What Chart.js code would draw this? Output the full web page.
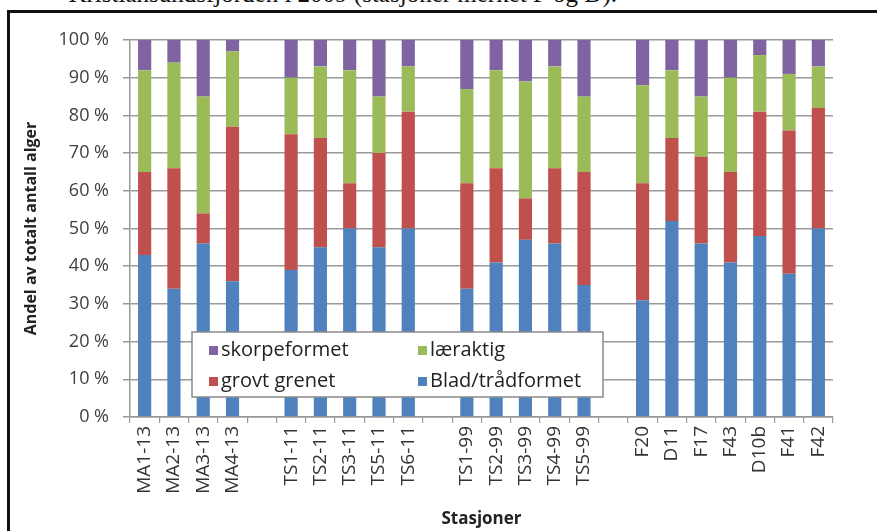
<!DOCTYPE html>
<html>
<head>
<meta charset="utf-8">
<script src="https://cdn.jsdelivr.net/npm/chart.js@4"></script>
<style>
  html, body { margin: 0; padding: 0; background: #fff; overflow: hidden; }
  #wrap { position: relative; width: 877px; height: 531px; }
  #caption {
    position: absolute; right: 260px; top: -19px;
    font-family: "Liberation Serif", serif; font-size: 25px; line-height: 25px;
    white-space: nowrap; color: #111;
  }
  #frame {
    position: absolute; left: 7px; top: 10px; right: -10px; bottom: -10px;
    border-left: 3px solid #111; border-top: 3px solid #111;
  }
  canvas { position: absolute; left: 0; top: 0; }
</style>
</head>
<body>
<div id="wrap">
  <div id="caption">Kristiansundsfjorden i 2009  (stasjoner merket F og D).</div>
  <div id="frame"></div>
  <canvas id="chart" width="877" height="531"></canvas>
</div>
<script>
// stasjoner, tomme plasser er mellomrom mellom gruppene
const stations = ["MA1-13", "MA2-13", "MA3-13", "MA4-13", "",
  "TS1-11", "TS2-11", "TS3-11", "TS5-11", "TS6-11", "",
  "TS1-99", "TS2-99", "TS3-99", "TS4-99", "TS5-99", "",
  "F20", "D11", "F17", "F43", "D10b", "F41", "F42"];

// andel (%) per type
const bladTraad = [43, 34, 46, 36, null, 39, 45, 50, 45, 50, null, 34, 41, 47, 46, 35, null, 31, 52, 46, 41, 48, 38, 50];
const grovtGrenet = [22, 32, 8, 41, null, 36, 29, 12, 25, 31, null, 28, 25, 11, 20, 30, null, 31, 22, 23, 24, 33, 38, 32];
const laeraktig = [27, 28, 31, 20, null, 15, 19, 30, 15, 12, null, 25, 26, 31, 27, 20, null, 26, 18, 16, 25, 15, 15, 11];
const skorpeformet = [8, 6, 15, 3, null, 10, 7, 8, 15, 7, null, 13, 8, 11, 7, 15, null, 12, 8, 15, 10, 4, 9, 7];

const yTicks = [0, 10, 20, 30, 40, 50, 60, 70, 80, 90, 100];

const font = "'Open Sans', sans-serif";

// legend drawn inside the plot, like the original
const boxLegend = {
  id: "boxLegend",
  afterDraw(chart) {
    const ctx = chart.ctx;
    const ds = chart.data.datasets;
    const order = [[3, 2], [1, 0]];
    const x0 = 192, y0 = 332, w = 411, h = 65;
    ctx.save();
    ctx.fillStyle = "#fff";
    ctx.fillRect(x0, y0, w, h);
    ctx.strokeStyle = "#8a8a8a";
    ctx.lineWidth = 1.5;
    ctx.strokeRect(x0, y0, w, h);
    ctx.font = "20px " + font;
    ctx.textBaseline = "middle";
    order.forEach((row, r) => {
      row.forEach((di, c) => {
        const x = x0 + 17 + c * 209;
        const y = y0 + 18 + r * 31;
        ctx.fillStyle = ds[di].backgroundColor;
        ctx.fillRect(x, y - 4, 9, 9);
        ctx.fillStyle = "#222";
        ctx.fillText(ds[di].label, x + 12, y);
      });
    });
    ctx.font = "bold 17px " + font;
    ctx.textAlign = "center";
    ctx.fillText("Stasjoner", (chart.chartArea.left + chart.chartArea.right) / 2, 519);
    ctx.restore();
  }
};

new Chart(document.getElementById("chart"), {
  type: "bar",
  data: {
    labels: stations,
    datasets: [
      { label: "Blad/trådformet", data: bladTraad, backgroundColor: "#4F81BD" },
      { label: "grovt grenet", data: grovtGrenet, backgroundColor: "#C0504D" },
      { label: "læraktig", data: laeraktig, backgroundColor: "#9BBB59" },
      { label: "skorpeformet", data: skorpeformet, backgroundColor: "#8064A2" }
    ]
  },
  options: {
    responsive: false,
    animation: false,
    layout: { padding: { left: 0, right: 44, top: 40, bottom: 0 } },
    datasets: { bar: { categoryPercentage: 1, barPercentage: 0.45 } },
    plugins: { legend: { display: false }, tooltip: { enabled: false } },
    scales: {
      x: {
        stacked: true,
        afterFit(scale) { scale.height = 114; },
        grid: { display: true, drawOnChartArea: false, drawTicks: true, tickLength: 6, color: "#999", lineWidth: 1.2 },
        border: { color: "#999", width: 1.5 },
        ticks: { autoSkip: false, minRotation: 90, maxRotation: 90, padding: 3, color: "#333", font: { family: font, size: 19 } }
      },
      y: {
        stacked: true,
        min: 0, max: 100,
        afterFit(scale) { scale.width = 130; },
        afterBuildTicks(scale) { scale.ticks = yTicks.map(v => ({ value: v })); },
        grid: { color: "#999", lineWidth: 1.5, tickLength: 7 },
        border: { color: "#999", width: 1.5 },
        ticks: { padding: 14, color: "#404040", font: { family: font, size: 18 }, callback: v => v + " %" },
        title: { display: true, text: "Andel av totalt antall alger", color: "#222", font: { family: font, size: 16, weight: "bold" }, padding: { top: 22, bottom: 0 } }
      }
    }
  },
  plugins: [boxLegend]
});
</script>
</body>
</html>
